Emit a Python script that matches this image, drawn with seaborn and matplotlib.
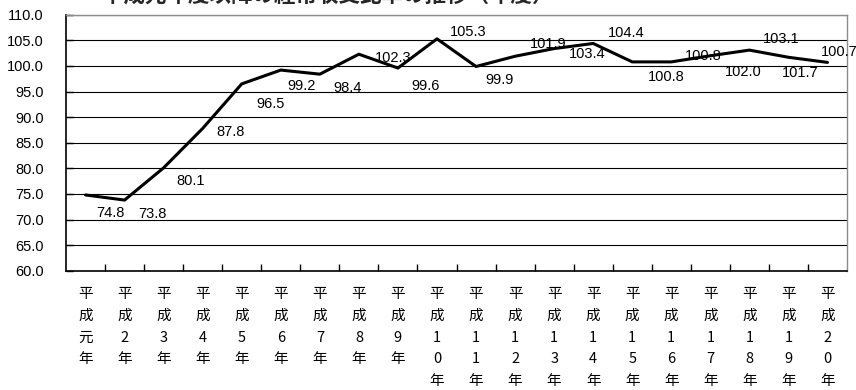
import matplotlib
matplotlib.use("Agg")
import matplotlib.pyplot as plt
import numpy as np
import pandas as pd
import seaborn as sns
from matplotlib.ticker import FixedLocator, FuncFormatter

# Fiscal years of the Heisei era shown on the x axis
years = ["元", "2", "3", "4", "5", "6", "7", "8", "9", "10",
         "11", "12", "13", "14", "15", "16", "17", "18", "19", "20"]

# Ratio for each fiscal year
values = [74.8, 73.8, 80.1, 87.8, 96.5, 99.2, 98.4, 102.3, 99.6, 105.3,
          99.9, 101.9, 103.4, 104.4, 100.8, 100.8, 102.0, 103.1, 101.7, 100.7]

title = "平成元年度以降の経常収支比率の推移（年度）"

# Pixel offsets (right, down) of each value label from its point
label_offsets = [(25, 18), (28, 14), (27, 13), (28, 4), (29, 20), (21, 16),
                 (28, 14), (34, 4), (28, 18), (31, -7), (24, 14), (33, -12),
                 (33, 5), (33, -10), (34, 15), (32, -6), (33, 16), (32, -11),
                 (12, 16), (12, -10)]

sns.set_theme(style="white")
plt.rcParams["font.family"] = ["Liberation Sans", "Noto Sans CJK JP", "DejaVu Sans"]

# Vertical stacked tick labels: 平 / 成 / digits / 年
tick_labels = ["\n".join(["平", "成"] + list(y) + ["年"]) for y in years]

df = pd.DataFrame({"year": tick_labels, "value": values})

fig = plt.figure(figsize=(8.56, 3.9), dpi=100)
ax = fig.add_axes([66 / 856, 1 - 270.7 / 390, 781 / 856, 255.9 / 390])

sns.lineplot(data=df, x="year", y="value", color="black", lw=2.2,
             sort=False, ax=ax, zorder=3)

ax.set_xlim(-0.5, len(years) - 0.5)
ax.set_ylim(60, 110)
ax.set_yticks(np.arange(60, 110.1, 5))
ax.yaxis.set_major_formatter(FuncFormatter(lambda v, p: f"{v:.1f}"))
ax.set_xlabel("")
ax.set_ylabel("")

ax.grid(axis="y", color="black", lw=0.8)
ax.grid(axis="x", visible=False)

for side in ("left", "bottom"):
    ax.spines[side].set_color("black")
    ax.spines[side].set_linewidth(1.2)
for side in ("top", "right"):
    ax.spines[side].set_color("#8c8c8c")
    ax.spines[side].set_linewidth(1.0)

ax.set_xticks(range(len(years)))
ax.set_xticklabels(tick_labels, fontsize=10.5, linespacing=1.7,
                   family=["Noto Sans CJK JP", "DejaVu Sans"])
ax.tick_params(axis="x", which="major", length=0, pad=12, colors="black")
ax.xaxis.set_minor_locator(FixedLocator(np.arange(0.5, len(years) - 1, 1)))
ax.tick_params(axis="x", which="minor", bottom=True, direction="in",
               length=5, width=1, color="black")
ax.tick_params(axis="y", left=True, direction="in", length=5, width=1,
               color="black", pad=16, labelsize=10.5, labelcolor="black")

for i, (v, (dx, dy)) in enumerate(zip(values, label_offsets)):
    ax.annotate(f"{v:.1f}", (i, v), xytext=(dx, -dy), textcoords="offset pixels",
                ha="center", va="center", fontsize=10.5, color="black", zorder=4)

fig.text(328 / 856, 1 - 2 / 390, title, ha="center", va="baseline",
         fontsize=15.5, fontweight="bold", family=["Noto Sans CJK JP", "DejaVu Sans"])

fig.savefig("out.png", dpi=100)
